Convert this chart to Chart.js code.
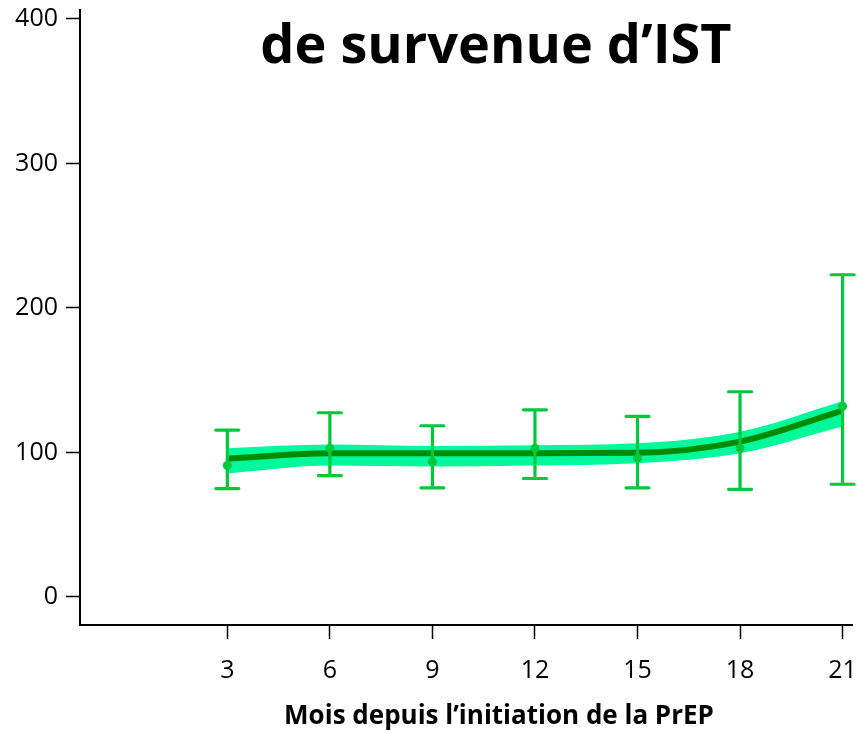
<!DOCTYPE html>
<html>
<head>
<meta charset="utf-8">
<script src="https://cdn.jsdelivr.net/npm/chart.js@4.4.0/dist/chart.umd.min.js"></script>
<style>
  html, body { margin: 0; padding: 0; background: #fff; }
  #wrap { width: 857px; height: 734px; }
</style>
</head>
<body>
<div id="wrap"><canvas id="istChart" width="857" height="734"></canvas></div>
<script>
// Months since PrEP start
const months = [3, 6, 9, 12, 15, 18, 21];
// Observed values and error bars
const observed = [91, 103, 93.5, 103, 96, 103, 132];
const errLow = [75, 84, 75.5, 82, 75.5, 74.5, 78];
const errHigh = [115.5, 127.5, 118.5, 129.5, 125, 142, 223];
// Fitted curve and confidence band
const fitted = [95.7, 99.5, 99.4, 99.5, 99.8, 107.5, 129];
const bandUpper = [103, 105.5, 104.5, 105, 106.4, 114.4, 135.5];
const bandLower = [85.5, 91, 90.3, 91, 92.5, 99.4, 118];
// Tick labels
const xTicks = [3, 6, 9, 12, 15, 18, 21];
const yTicks = [0, 100, 200, 300, 400];

const toXY = arr => arr.map((v, i) => ({ x: months[i], y: v }));

const barColor = '#00C83C';

// Error bars drawn through the chart scales
const errorBars = {
    id: 'errorBars',
    afterDatasetsDraw(chart) {
        const ctx = chart.ctx;
        const xs = chart.scales.x, ys = chart.scales.y;
        ctx.save();
        ctx.strokeStyle = barColor;
        ctx.lineWidth = 3.2;
        ctx.lineCap = 'round';
        months.forEach((m, i) => {
            const px = xs.getPixelForValue(m);
            const top = ys.getPixelForValue(errHigh[i]);
            const bot = ys.getPixelForValue(errLow[i]);
            ctx.beginPath();
            ctx.moveTo(px, top); ctx.lineTo(px, bot);
            ctx.moveTo(px - 11.5, top); ctx.lineTo(px + 11.5, top);
            ctx.moveTo(px - 11.5, bot); ctx.lineTo(px + 11.5, bot);
            ctx.stroke();
        });
        ctx.restore();
    }
};

// Title (partly cut off at the top as in the source) and x axis title
const titlePlugin = {
    id: 'topTitle',
    afterDraw(chart) {
        const ctx = chart.ctx;
        ctx.save();
        ctx.fillStyle = '#000';
        ctx.textAlign = 'center';
        ctx.textBaseline = 'alphabetic';
        ctx.font = 'bold 54px "Open Sans"';
        ctx.fillText('de survenue d\u2019IST', 496, 63);
        ctx.textBaseline = 'middle';
        ctx.font = 'bold 26px "Open Sans"';
        ctx.fillText('Mois depuis l\u2019initiation de la PrEP', 499, 717);
        ctx.restore();
    }
};

new Chart(document.getElementById('istChart'), {
    type: 'line',
    data: {
        datasets: [
            {
                label: 'Upper',
                data: toXY(bandUpper),
                borderWidth: 0,
                pointRadius: 0,
                cubicInterpolationMode: 'monotone',
                fill: false,
                order: 3
            },
            {
                label: 'Lower',
                data: toXY(bandLower),
                borderWidth: 0,
                pointRadius: 0,
                cubicInterpolationMode: 'monotone',
                backgroundColor: '#00F99B',
                fill: '-1',
                order: 3
            },
            {
                label: 'Fitted',
                data: toXY(fitted),
                borderColor: '#008C00',
                borderWidth: 6,
                pointRadius: 0,
                cubicInterpolationMode: 'monotone',
                fill: false,
                order: 2
            },
            {
                label: 'Observed',
                data: toXY(observed),
                showLine: false,
                pointRadius: 4.5,
                pointBackgroundColor: barColor,
                pointBorderWidth: 0,
                order: 1
            }
        ]
    },
    options: {
        responsive: false,
        animation: false,
        layout: { padding: { top: 10, right: 0, left: 0, bottom: 0 } },
        plugins: {
            legend: { display: false },
            title: { display: false },
            tooltip: { enabled: false }
        },
        scales: {
            x: {
                type: 'linear',
                min: -1.31,
                max: 21.29,
                afterBuildTicks: scale => { scale.ticks = xTicks.map(v => ({ value: v })); },
                afterFit: scale => {
                    scale.height = 109;
                    scale.paddingLeft = 0;
                    scale.paddingRight = 0;
                },
                border: { display: true, color: '#000', width: 2 },
                grid: { drawOnChartArea: false, drawTicks: true, tickLength: 14, tickColor: '#000', tickWidth: 1.5 },
                ticks: {
                    color: '#000',
                    padding: 17,
                    maxRotation: 0,
                    autoSkip: false,
                    font: { family: 'Open Sans', size: 25 }
                }
            },
            y: {
                type: 'linear',
                min: -19.4,
                max: 406.2,
                afterBuildTicks: scale => { scale.ticks = yTicks.map(v => ({ value: v })); },
                afterFit: scale => {
                    scale.width = 80;
                    scale.paddingTop = 0;
                    scale.paddingBottom = 0;
                },
                border: { display: true, color: '#000', width: 2 },
                grid: { drawOnChartArea: false, drawTicks: true, tickLength: 14, tickColor: '#000', tickWidth: 1.5 },
                ticks: {
                    color: '#000',
                    padding: 8,
                    font: { family: 'Open Sans', size: 25 }
                }
            }
        }
    },
    plugins: [errorBars, titlePlugin]
});
</script>
</body>
</html>
